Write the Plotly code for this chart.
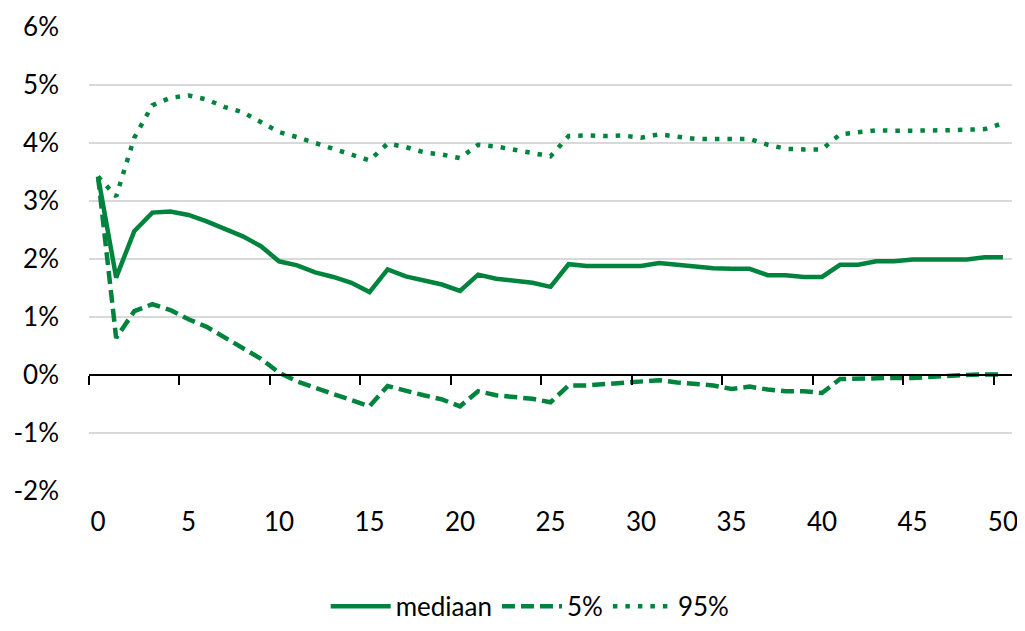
import plotly.graph_objects as go

years = list(range(0, 51))

mediaan = [3.42, 1.68, 2.48, 2.80, 2.82, 2.76, 2.65, 2.52, 2.39, 2.22,
           1.96, 1.89, 1.77, 1.69, 1.59, 1.43, 1.82, 1.70, 1.63, 1.56,
           1.45, 1.73, 1.66, 1.62, 1.59, 1.52, 1.91, 1.88, 1.88, 1.88,
           1.88, 1.93, 1.90, 1.87, 1.84, 1.83, 1.83, 1.72, 1.72, 1.69,
           1.69, 1.90, 1.90, 1.96, 1.96, 1.99, 1.99, 1.99, 1.99, 2.03,
           2.03]

p5 = [3.42, 0.64, 1.10, 1.22, 1.12, 0.96, 0.83, 0.64, 0.45, 0.28,
      0.04, -0.11, -0.22, -0.32, -0.42, -0.54, -0.19, -0.28, -0.35, -0.42,
      -0.54, -0.28, -0.35, -0.38, -0.41, -0.47, -0.18, -0.18, -0.16, -0.14,
      -0.12, -0.09, -0.13, -0.16, -0.18, -0.24, -0.20, -0.25, -0.28, -0.28,
      -0.31, -0.07, -0.06, -0.06, -0.05, -0.05, -0.03, -0.02, 0.00, 0.01,
      0.01]

p95 = [3.42, 3.08, 4.09, 4.65, 4.78, 4.82, 4.75, 4.62, 4.53, 4.35,
       4.19, 4.10, 4.00, 3.90, 3.82, 3.70, 3.99, 3.93, 3.84, 3.80,
       3.74, 3.97, 3.94, 3.88, 3.82, 3.77, 4.12, 4.13, 4.12, 4.13,
       4.09, 4.15, 4.11, 4.07, 4.07, 4.07, 4.07, 3.97, 3.90, 3.89,
       3.89, 4.15, 4.18, 4.22, 4.21, 4.21, 4.21, 4.22, 4.23, 4.24,
       4.34]

y_tickvals = [-2, -1, 0, 1, 2, 3, 4, 5, 6]
y_ticktext = ["-2%", "-1%", "0%", "1%", "2%", "3%", "4%", "5%", "6%"]
x_tickvals = [0, 5, 10, 15, 20, 25, 30, 35, 40, 45, 50]
x_tickmarks = [-0.5, 4.5, 9.5, 14.5, 19.5, 24.5, 29.5, 34.5, 39.5, 44.5, 49.5]

GREEN = "#00843D"
FONT = "Lato"
FS = 26

fig = go.Figure()
fig.add_trace(go.Scatter(x=years, y=mediaan, mode="lines", name="mediaan",
                         line=dict(color=GREEN, width=4.5)))
fig.add_trace(go.Scatter(x=years, y=p5, mode="lines", name="5%",
                         line=dict(color=GREEN, width=4.5, dash="13px,6px")))
fig.add_trace(go.Scatter(x=years, y=p95, mode="lines", name="95%",
                         line=dict(color=GREEN, width=4.5, dash="4.5px,8px")))
# invisible trace to host the zero-line axis
fig.add_trace(go.Scatter(x=[years[0]], y=[0], xaxis="x2", mode="markers",
                         marker=dict(opacity=0), showlegend=False, hoverinfo="skip"))

fig.update_layout(
    template="none",
    width=1025, height=631,
    margin=dict(l=81, r=21, t=19, b=148, autoexpand=False),
    paper_bgcolor="white", plot_bgcolor="white",
    font=dict(family=FONT, size=FS, color="black"),
    showlegend=True,
    legend=dict(orientation="h", x=0.478, xanchor="center", y=-0.198, yanchor="top",
                font=dict(family=FONT, size=FS), traceorder="normal",
                itemwidth=60, bgcolor="rgba(0,0,0,0)"),
    xaxis=dict(range=[-0.5, 50.5], tickvals=x_tickvals, showgrid=False,
               zeroline=False, showline=False, ticks="", ticklabelstandoff=13,
               automargin=False, tickfont=dict(family=FONT, size=FS)),
    xaxis2=dict(range=[-0.5, 50.5], overlaying="x", anchor="free", position=0.25,
                side="bottom", showline=True, linecolor="black", linewidth=1.5,
                ticks="outside", ticklen=9, tickwidth=1.5, tickcolor="black",
                tickvals=x_tickmarks, showticklabels=False, showgrid=False,
                zeroline=False, automargin=False),
    yaxis=dict(range=[-2, 6], tickvals=y_tickvals, ticktext=y_ticktext,
               showgrid=True, gridcolor="#D9D9D9", gridwidth=1.5,
               zeroline=False, showline=False, ticks="", ticklabelstandoff=29,
               automargin=False, tickfont=dict(family=FONT, size=FS)),
)

fig.write_html("out.html")
